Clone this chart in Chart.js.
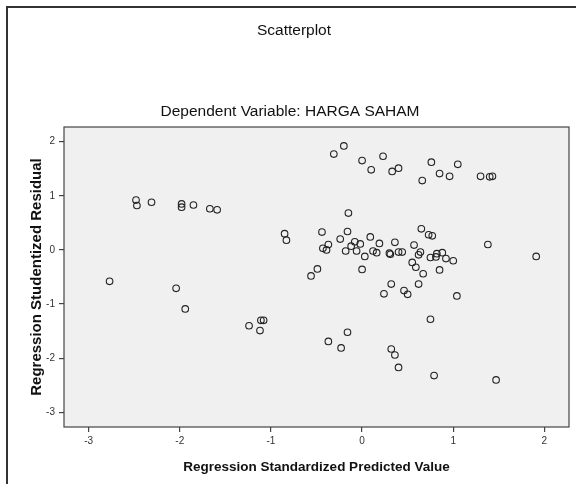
<!DOCTYPE html>
<html>
<head>
<meta charset="utf-8">
<script src="https://cdn.jsdelivr.net/npm/chart.js@4/dist/chart.umd.min.js"></script>
<style>
  html, body { margin: 0; padding: 0; background: #fff; }
  #wrap { width: 576px; height: 484px; position: relative; }
</style>
</head>
<body>
<div id="wrap"><canvas id="scatterChart" width="576" height="484"></canvas></div>
<script>
// predicted values (x) and studentized residuals (y)
const predicted = [
  -2.48, -2.47, -2.31, -1.98, -1.98, -1.85, -1.67, -1.59, -2.77, -2.04, -1.94,
  -0.85, -0.83, -1.24, -1.11, -1.08, -1.12, -0.16, -0.37, -0.23,
  -0.31, -0.20, 0.00, 0.10, 0.23, 0.33, 0.40, 0.76, 1.05, 0.66, 0.85, 0.96, 1.30, 1.40, 1.43,
  -0.15, -0.44, -0.16, -0.24, 0.09, -0.37, -0.43, -0.39, -0.08, -0.02, -0.12, -0.18, -0.06,
  0.19, 0.36, 0.03, 0.12, 0.16, 0.30, 0.31, 0.40, 0.44, 0.00, -0.49, -0.56, 0.32,
  0.65, 0.73, 0.77, 1.38, 0.57, 0.64, 0.62, 0.82, 0.81, 0.88, 0.75, 0.92, 1.00, 0.55, 0.59,
  0.67, 0.85, 0.62, 0.46, 0.50, 1.04, 1.91, 0.24,
  0.75, 0.32, 0.36, 0.40, 0.79, 1.47
];
const residual = [
  0.92, 0.82, 0.88, 0.85, 0.79, 0.83, 0.76, 0.74, -0.58, -0.71, -1.09,
  0.30, 0.18, -1.40, -1.30, -1.30, -1.49, -1.52, -1.69, -1.81,
  1.77, 1.92, 1.65, 1.48, 1.73, 1.45, 1.51, 1.62, 1.58, 1.28, 1.41, 1.36, 1.36, 1.35, 1.36,
  0.68, 0.33, 0.34, 0.20, 0.24, 0.10, 0.03, 0.00, 0.15, 0.11, 0.07, -0.02, -0.02,
  0.12, 0.14, -0.12, -0.02, -0.05, -0.06, -0.08, -0.04, -0.04, -0.36, -0.35, -0.48, -0.63,
  0.39, 0.28, 0.26, 0.10, 0.09, -0.04, -0.09, -0.07, -0.13, -0.05, -0.14, -0.16, -0.20, -0.23, -0.32,
  -0.44, -0.37, -0.63, -0.75, -0.82, -0.85, -0.12, -0.81,
  -1.28, -1.83, -1.94, -2.17, -2.32, -2.40
];
const xTicks = [-3, -2, -1, 0, 1, 2];
const yTicks = [-3, -2, -1, 0, 1, 2];

const points = predicted.map((x, i) => ({ x: x, y: residual[i] }));

const fontFamily = '"Liberation Sans", Arial, sans-serif';

// frame, plot background and headings
const decorPlugin = {
  id: 'decor',
  beforeDraw(chart) {
    const ctx = chart.ctx;
    const a = chart.chartArea;
    ctx.save();
    ctx.fillStyle = '#f0f0f0';
    ctx.fillRect(a.left, a.top, a.right - a.left, a.bottom - a.top);
    // outer frame (only left and top edges are in view)
    ctx.strokeStyle = '#333';
    ctx.lineWidth = 2;
    ctx.beginPath();
    ctx.moveTo(7, 490);
    ctx.lineTo(7, 7);
    ctx.lineTo(580, 7);
    ctx.stroke();
    ctx.fillStyle = '#111';
    ctx.textAlign = 'center';
    ctx.textBaseline = 'middle';
    ctx.font = '15.5px ' + fontFamily;
    ctx.fillText('Scatterplot', 294, 31);
    ctx.fillText('Dependent Variable: HARGA SAHAM', 290, 112);
    ctx.restore();
  },
  afterDatasetsDraw(chart) {
    const ctx = chart.ctx;
    const a = chart.chartArea;
    ctx.save();
    ctx.strokeStyle = '#444';
    ctx.lineWidth = 1.2;
    ctx.strokeRect(a.left, a.top, a.right - a.left, a.bottom - a.top);
    ctx.restore();
  }
};

const ctx = document.getElementById('scatterChart').getContext('2d');
new Chart(ctx, {
  type: 'scatter',
  data: {
    datasets: [{
      label: 'Residuals',
      data: points,
      pointStyle: 'circle',
      pointRadius: 3.3,
      pointBorderWidth: 1.1,
      pointBorderColor: '#222',
      pointBackgroundColor: 'rgba(0,0,0,0)'
    }]
  },
  options: {
    responsive: false,
    animation: false,
    layout: { padding: { left: 0, top: 127, right: 7, bottom: 0 } },
    plugins: {
      legend: { display: false },
      tooltip: { enabled: false }
    },
    scales: {
      x: {
        type: 'linear',
        min: -3.27,
        max: 2.27,
        afterBuildTicks(scale) { scale.ticks = xTicks.map(v => ({ value: v })); },
        afterFit(scale) { scale.height = 57; },
        grid: { drawOnChartArea: false, drawTicks: true, tickLength: 5, color: '#444', lineWidth: 1.2 },
        border: { display: false },
        ticks: {
          padding: 3,
          color: '#333',
          font: { family: fontFamily, size: 10 }
        },
        title: {
          display: true,
          text: 'Regression Standardized Predicted Value',
          color: '#111',
          padding: { top: 0, bottom: 9 },
          font: { family: fontFamily, size: 13.5, weight: 'bold' }
        }
      },
      y: {
        type: 'linear',
        min: -3.27,
        max: 2.27,
        afterBuildTicks(scale) { scale.ticks = yTicks.map(v => ({ value: v })); },
        afterFit(scale) { scale.width = 64; },
        grid: { drawOnChartArea: false, drawTicks: true, tickLength: 5, color: '#444', lineWidth: 1.2 },
        border: { display: false },
        ticks: {
          padding: 4,
          color: '#333',
          font: { family: fontFamily, size: 10 }
        },
        title: {
          display: true,
          text: 'Regression Studentized Residual',
          color: '#111',
          padding: { top: 28, bottom: 0 },
          font: { family: fontFamily, size: 15, weight: 'bold' }
        }
      }
    }
  },
  plugins: [decorPlugin]
});
</script>
</body>
</html>
